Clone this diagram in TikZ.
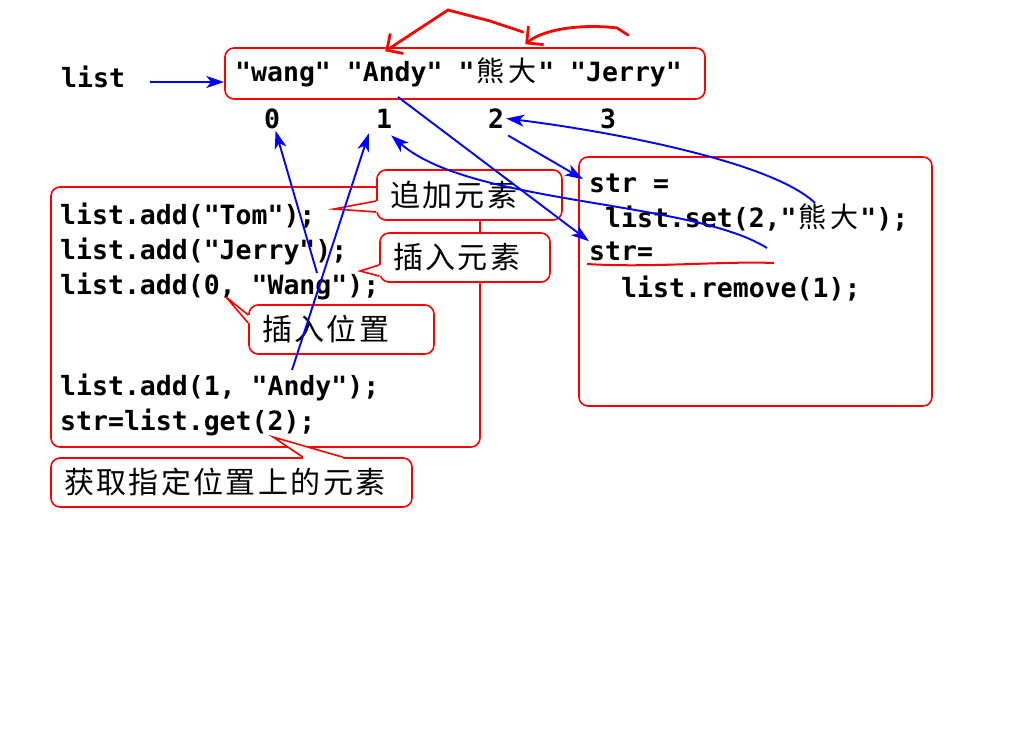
\documentclass[tikz,border=0pt]{standalone}
\usepackage{fontspec}
\usetikzlibrary{arrows.meta,calc}
\setmonofont{DejaVu Sans Mono}
\newfontfamily\cjk[LetterSpace=8]{Noto Sans CJK SC}
\newfontfamily\cjkc{Noto Sans CJK SC}
\newcommand\codef{\ttfamily\bfseries\fontsize{26.5}{30}\selectfont}
\newcommand\cjkf{\cjk\fontsize{30}{34}\selectfont}
\newcommand\cjw[1]{\makebox[31.9pt]{\mdseries\cjkc\fontsize{28}{30}\selectfont #1}}
\newcommand\callptr[4]{%
  \fill[white] ($(#1)+(#4)$) -- (#1) -- (#3) -- (#2) -- ($(#2)+(#4)$) -- cycle;
  \draw[redline] (#1) -- (#3) -- (#2);}
\begin{document}
\begin{tikzpicture}[x=1pt,y=-1pt,
  code/.style={anchor=base west, inner sep=0pt, font=\codef},
  idx/.style={inner sep=2pt, font=\codef},
  redline/.style={draw=red, line width=1.6pt},
  redbox/.style={redline, rounded corners=9pt, inner sep=0pt},
  callout/.style={redbox, fill=white, inner xsep=13pt, inner ysep=0pt, align=left, font=\cjkf},
  bluearr/.style={draw=blue, line width=1.9pt, -{Stealth[length=18pt,width=12pt,inset=5pt]}},
  redarr/.style={draw=red, line width=2.8pt, line cap=round, -{Straight Barb[length=12pt,width=24pt]}},
]
\useasboundingbox (0,0) rectangle (1024,738);

% array box and labels
\node[code] (lst) at (61,88) {list};
\node[redbox, minimum width=480pt, minimum height=51pt] (arr) at (465,73.5) {};
\node[code] (arrtxt) at (235,82) {"wang" "Andy" "\cjw{熊}\cjw{大}" "Jerry"};
\node[idx] (i0) at (272,118.5) {0};
\node[idx] (i1) at (384,118.5) {1};
\node[idx] (i2) at (496,118.5) {2};
\node[idx] (i3) at (608,118.5) {3};

% left code box
\node[redbox, minimum width=429pt, minimum height=260pt] (lbox) at (265.5,317) {};
\node[code] (l1) at (60,224) {list.add("Tom");};
\node[code] (l2) at (60,259) {list.add("Jerry");};
\node[code] (l3) at (60,294) {list.add(0, "Wang");};
\node[code] (l4) at (60,395) {list.add(1, "Andy");};
\node[code] (l5) at (60,430) {str=list.get(2);};

% right code box
\node[redbox, minimum width=353pt, minimum height=249pt] (rbox) at (755.5,281.5) {};
\node[code] (s1) at (589,192) {str =};
\node[code] (s2) at (605,227) {list.set(2,"\cjw{熊}\cjw{大}");};
\node[code] (s3) at (589,260) {str=};
\node[code] (s4) at (621,297) {list.remove(1);};

% callouts
\node[callout, text width=159pt, minimum height=50pt] (c1) at (469.5,195) {追加元素};
\callptr{$(c1.west)+(0,6)$}{$(c1.west)+(0,17)$}{334,209}{2.5,0}
\node[callout, text width=144pt, minimum height=49pt] (c2) at (465,257.5) {插入元素};
\callptr{$(c2.west)+(0,7.5)$}{$(c2.west)+(0,18.5)$}{360,271}{2.5,0}
\node[callout, text width=159pt, minimum height=49pt] (c3) at (341.5,329.5) {插入位置};
\callptr{$(c3.west)+(0,-14.5)$}{$(c3.west)+(0,-6.5)$}{226,297}{2.5,0}
\node[callout, text width=335pt, minimum height=49pt] (c4) at (231.5,482.5) {获取指定位置上的元素};
\callptr{$(c4.north)+(71.5,0)$}{$(c4.north)+(111.5,0)$}{273,437}{0,2.5}

% red annotations
\coordinate (r1a) at (523,32);
\coordinate (r1b) at (448,10);
\coordinate (r2a) at (628,35);
\draw[redarr] (r1a) -- (490,21) -- (r1b) -- ($(arr.north west)+(161,4)$);
\draw[redarr] (r2a) -- (617,28) .. controls (585,24) and (545,28) .. ($(arr.north west)+(301,-3)$);
\draw[redline, line width=2pt] ($(s3.base west)+(-2,4)$) .. controls (650,268) and (720,261) .. (774,263);

% blue connectors
\coordinate (la) at (150,82);
\coordinate (wg) at (317,273);
\coordinate (ad) at (292,370);
\coordinate (an) at (398,97);
\coordinate (rm) at (767,248);
\coordinate (xd) at (815,203);
\draw[bluearr] (la) -- (la -| arr.west);
\draw[bluearr] (wg) -- (i0);
\draw[bluearr] (ad) -- ($(i1.south west)+(-5,3)$);
\draw[bluearr] (an) -- (s3.north west);
\draw[bluearr] (rm) .. controls (690,200) and (470,205) .. ($(i1.south east)+(-3,5)$);
\draw[bluearr] ($(i2.south east)+(2,5)$) -- ($(s1.north west)+(-6,6)$);
\draw[bluearr] (xd) .. controls (770,160) and (600,130) .. (i2.east);
\end{tikzpicture}
\end{document}
